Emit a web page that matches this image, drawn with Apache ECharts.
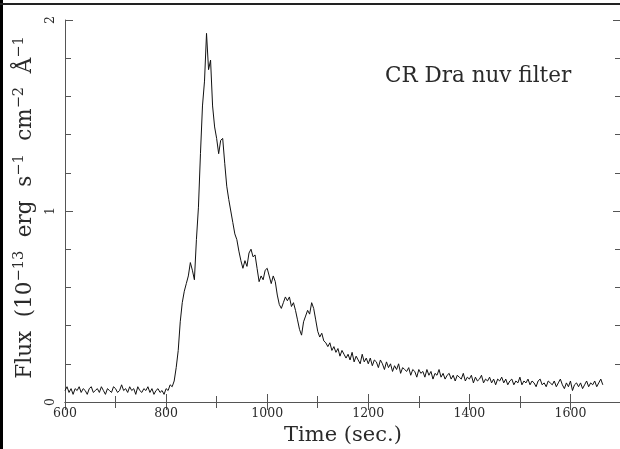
<!DOCTYPE html>
<html>
<head>
<meta charset="utf-8">
<script src="https://cdn.jsdelivr.net/npm/echarts@6/dist/echarts.min.js"></script>
<style>
  html, body { margin: 0; padding: 0; background: #fff; }
  #lightCurve { width: 620px; height: 449px; }
</style>
</head>
<body>
<div id="lightCurve"></div>
<script>
// light curve, 4 s bins starting at t = 600 s
const startTime = 600;
const binSec = 4;
const flux = [
  0.06, 0.08, 0.05, 0.07, 0.04, 0.07, 0.06, 0.08, 0.05, 0.07, // 600
  0.06, 0.04, 0.07, 0.08, 0.05, 0.06, 0.07, 0.05, 0.08, 0.06, // 640
  0.04, 0.07, 0.06, 0.05, 0.08, 0.07, 0.05, 0.06, 0.09, 0.06, // 680
  0.07, 0.05, 0.08, 0.06, 0.07, 0.04, 0.08, 0.06, 0.05, 0.07, // 720
  0.06, 0.08, 0.05, 0.07, 0.04, 0.06, 0.07, 0.05, 0.06, 0.04, // 760
  0.07, 0.06, 0.09, 0.08, 0.11, 0.18, 0.27, 0.42, 0.52, 0.58, // 800
  0.62, 0.66, 0.73, 0.69, 0.64, 0.85, 1.02, 1.30, 1.55, 1.68, // 840
  1.93, 1.74, 1.79, 1.55, 1.44, 1.38, 1.30, 1.37, 1.38, 1.25, // 880
  1.13, 1.06, 1.00, 0.94, 0.88, 0.85, 0.79, 0.74, 0.70, 0.74, // 920
  0.71, 0.78, 0.80, 0.76, 0.77, 0.70, 0.63, 0.66, 0.64, 0.69, // 960
  0.70, 0.66, 0.62, 0.66, 0.63, 0.56, 0.51, 0.49, 0.52, 0.55, // 1000
  0.53, 0.55, 0.50, 0.52, 0.48, 0.43, 0.38, 0.35, 0.42, 0.45, // 1040
  0.48, 0.46, 0.52, 0.49, 0.43, 0.37, 0.34, 0.36, 0.32, 0.31, // 1080
  0.29, 0.31, 0.27, 0.29, 0.26, 0.28, 0.24, 0.27, 0.25, 0.23, // 1120
  0.25, 0.22, 0.26, 0.21, 0.24, 0.22, 0.20, 0.25, 0.21, 0.23, // 1160
  0.20, 0.23, 0.19, 0.22, 0.21, 0.18, 0.22, 0.20, 0.17, 0.21, // 1200
  0.18, 0.20, 0.16, 0.19, 0.17, 0.20, 0.15, 0.18, 0.17, 0.16, // 1240
  0.18, 0.14, 0.17, 0.16, 0.13, 0.17, 0.15, 0.16, 0.13, 0.17, // 1280
  0.14, 0.16, 0.12, 0.15, 0.14, 0.17, 0.13, 0.15, 0.12, 0.14, // 1320
  0.15, 0.12, 0.14, 0.11, 0.14, 0.13, 0.12, 0.15, 0.11, 0.13, // 1360
  0.12, 0.14, 0.10, 0.13, 0.11, 0.12, 0.14, 0.10, 0.12, 0.11, // 1400
  0.13, 0.10, 0.12, 0.09, 0.12, 0.11, 0.13, 0.10, 0.12, 0.09, // 1440
  0.11, 0.12, 0.09, 0.11, 0.10, 0.13, 0.09, 0.11, 0.10, 0.12, // 1480
  0.09, 0.11, 0.10, 0.08, 0.11, 0.12, 0.09, 0.10, 0.08, 0.11, // 1520
  0.10, 0.09, 0.11, 0.08, 0.10, 0.12, 0.09, 0.07, 0.10, 0.08, // 1560
  0.11, 0.06, 0.09, 0.10, 0.08, 0.10, 0.07, 0.09, 0.11, 0.08, // 1600
  0.10, 0.09, 0.11, 0.08, 0.10, 0.12, 0.09                    // 1640
];
const xTickLabels = [600, 800, 1000, 1200, 1400, 1600];
const yTickLabels = [0, 1, 2];

const serif = 'DejaVu Serif';
const textColor = '#2a2a2a';
const axisColor = '#555';

const chart = echarts.init(document.getElementById('lightCurve'));
const points = flux.map((f, i) => [startTime + i * binSec, f]);

const frameAxis = {
  axisLine: { show: true, lineStyle: { color: axisColor, width: 1 } },
  axisTick: { show: true, inside: true, length: 8, lineStyle: { color: axisColor } },
  minorTick: { show: true, length: 6, lineStyle: { color: axisColor } },
  splitLine: { show: false },
  minorSplitLine: { show: false },
};

const option = {
  animation: false,
  backgroundColor: '#fff',
  title: {
    text: 'CR Dra nuv filter',
    left: 385,
    top: 65,
    padding: 0,
    textStyle: { fontFamily: serif, fontSize: 21.5, fontWeight: 'normal', color: textColor },
  },
  // right edge of the frame sits just outside the picture
  grid: { left: 65, top: 20, width: 556, bottom: 47, outerBoundsMode: 'none' },
  xAxis: [
    Object.assign({}, frameAxis, {
      type: 'value',
      min: 600,
      max: 1700,
      interval: 200,
      minorTick: Object.assign({}, frameAxis.minorTick, { splitNumber: 2 }),
      name: 'Time (sec.)',
      nameLocation: 'middle',
      nameGap: 22,
      nameTextStyle: { fontFamily: serif, fontSize: 21, color: textColor },
      axisLabel: {
        margin: 5,
        fontFamily: serif,
        fontSize: 12.5,
        color: textColor,
        formatter: (v) => (xTickLabels.indexOf(v) >= 0 ? String(v) : ''),
      },
    }),
    Object.assign({}, frameAxis, {
      type: 'value',
      position: 'top',
      min: 600,
      max: 1700,
      interval: 200,
      minorTick: Object.assign({}, frameAxis.minorTick, { splitNumber: 2 }),
      axisLabel: { show: false },
    }),
  ],
  yAxis: [
    Object.assign({}, frameAxis, {
      type: 'value',
      min: 0,
      max: 2,
      interval: 1,
      minorTick: Object.assign({}, frameAxis.minorTick, { splitNumber: 5 }),
      name: '{n|Flux  (10}{s|−13}{n|  erg  s}{s|−1}{n|  cm}{s|−2}{n|  Å}{s|−1}',
      nameLocation: 'middle',
      nameGap: 23,
      nameTextStyle: {
        color: textColor,
        padding: [0, 0, 0, 7],
        rich: {
          n: { fontFamily: serif, fontSize: 21.5, color: textColor },
          s: { fontFamily: serif, fontSize: 14.5, color: textColor, padding: [0, 0, 11, 0] },
        },
      },
      axisLabel: {
        rotate: 90,
        margin: 8,
        fontFamily: serif,
        fontSize: 12.5,
        color: textColor,
        formatter: (v) => (yTickLabels.indexOf(v) >= 0 ? String(v) : ''),
      },
    }),
    Object.assign({}, frameAxis, {
      type: 'value',
      position: 'right',
      min: 0,
      max: 2,
      interval: 1,
      minorTick: Object.assign({}, frameAxis.minorTick, { splitNumber: 5 }),
      axisLabel: { show: false },
    }),
  ],
  graphic: [
    { type: 'rect', shape: { x: 0, y: 0, width: 3, height: 449 }, style: { fill: '#000' } },
    { type: 'rect', shape: { x: 0, y: 3, width: 620, height: 2 }, style: { fill: '#222' } },
  ],
  series: [
    {
      name: 'flux',
      type: 'line',
      data: points,
      showSymbol: false,
      symbol: 'none',
      lineStyle: { color: '#111', width: 1 },
    },
  ],
};
chart.setOption(option);
</script>
</body>
</html>
